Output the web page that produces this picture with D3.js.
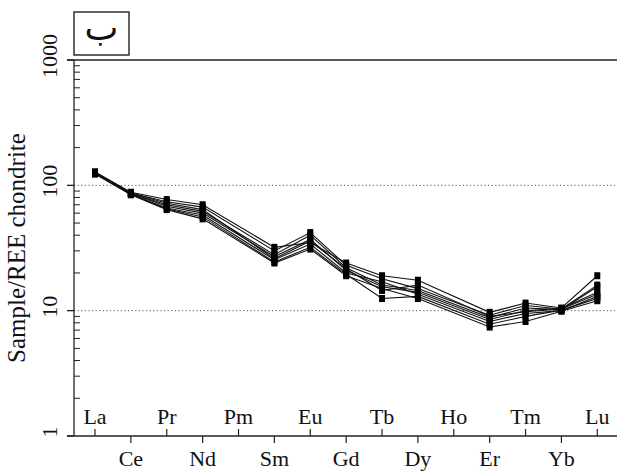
<!DOCTYPE html>
<html lang="en">
<head>
    <meta charset="UTF-8">
    <title>REE chondrite-normalised pattern</title>
    <script src="https://d3js.org/d3.v7.min.js"></script>
    <style>
        body { margin: 0; background: #fff; }
    </style>
</head>
<body>
    <div id="chart"></div>

    <script>
        // element order on the x axis (Pm has no analyses)
        const elements = ["La", "Ce", "Pr", "Nd", "Pm", "Sm", "Eu", "Gd", "Tb", "Dy", "Ho", "Er", "Tm", "Yb", "Lu"];
        const measured = ["La", "Ce", "Pr", "Nd", "Sm", "Eu", "Gd", "Tb", "Dy", "Er", "Tm", "Yb", "Lu"];

        // chondrite-normalised values, one array per sample (order = measured)
        const sample1 = [128, 88, 77, 70, 32, 35, 24, 19, 17.5, 9.7, 11.5, 10.5, 19];
        const sample2 = [127, 87, 74, 67, 30, 42, 23, 18, 15, 9.2, 11, 10.3, 16];
        const sample3 = [126, 86, 70, 62, 28, 40, 22, 16, 14.5, 8.8, 10.5, 10.2, 15.5];
        const sample4 = [125, 86, 68, 60, 27, 37, 21, 15.5, 14, 8.5, 10, 10.4, 14];
        const sample5 = [126, 85, 66, 58, 25.5, 34, 20, 17, 13.5, 8.2, 9.5, 10, 13];
        const sample6 = [124, 85, 65, 56, 24.5, 32, 19.5, 12.5, 13, 7.8, 9, 10.1, 12.5];
        const sample7 = [123, 84, 64, 54, 24, 31, 19, 15, 12.5, 7.4, 8.2, 9.9, 12];
        const sample8 = [127, 87, 72, 64, 26, 36, 21.5, 14.5, 16, 9, 9.8, 10.3, 13.5];
        const samples = [sample1, sample2, sample3, sample4, sample5, sample6, sample7, sample8];

        const yTickValues = [1, 10, 100, 1000];
        const gridValues = [10, 100];
        const panelLabel = "ب";

        const width = 617, height = 471;
        const axisX = 74, plotTop = 60, plotBottom = 436;
        const serif = "'Liberation Serif', 'DejaVu Serif', serif";

        const svg = d3.select("#chart").append("svg")
            .attr("width", width)
            .attr("height", height)
            .style("font-family", serif);

        const x = d3.scalePoint()
            .domain(elements)
            .range([95, 597.3]);

        const y = d3.scaleLog()
            .domain([1, 1000])
            .range([plotBottom, plotTop]);

        // dotted reference lines
        svg.selectAll(".grid")
            .data(gridValues)
            .enter().append("line")
            .attr("x1", axisX).attr("x2", width)
            .attr("y1", d => y(d)).attr("y2", d => y(d))
            .attr("stroke", "#555")
            .attr("stroke-width", 1)
            .attr("stroke-dasharray", "1.2,2.4");

        // top frame line and bottom axis line
        svg.append("line")
            .attr("x1", 67).attr("x2", width)
            .attr("y1", plotTop).attr("y2", plotTop)
            .attr("stroke", "#222").attr("stroke-width", 1.6);
        svg.append("line")
            .attr("x1", 67).attr("x2", width)
            .attr("y1", plotBottom).attr("y2", plotBottom)
            .attr("stroke", "#222").attr("stroke-width", 1.3);

        // left axis
        svg.append("line")
            .attr("x1", axisX).attr("x2", axisX)
            .attr("y1", plotTop).attr("y2", plotBottom)
            .attr("stroke", "#222").attr("stroke-width", 1.3);

        // minor ticks (2..9 in each decade), pointing inward
        const minor = [];
        yTickValues.slice(0, 3).forEach(d => {
            for (let k = 2; k <= 9; k++) minor.push(d * k);
        });
        svg.selectAll(".minor")
            .data(minor)
            .enter().append("line")
            .attr("x1", axisX).attr("x2", axisX + 6)
            .attr("y1", d => y(d)).attr("y2", d => y(d))
            .attr("stroke", "#222").attr("stroke-width", 1);

        // major ticks, outward
        svg.selectAll(".major")
            .data(yTickValues)
            .enter().append("line")
            .attr("x1", 67).attr("x2", axisX)
            .attr("y1", d => y(d)).attr("y2", d => y(d))
            .attr("stroke", "#222").attr("stroke-width", 1.3);

        svg.selectAll(".ylabel")
            .data(yTickValues)
            .enter().append("text")
            .attr("transform", d => `translate(57,${y(d) - 4}) rotate(-90)`)
            .attr("text-anchor", "middle")
            .attr("font-size", 22)
            .attr("fill", "#111")
            .style("font-family", serif)
            .text(d => d);

        svg.append("text")
            .attr("transform", `translate(25,248) rotate(-90)`)
            .attr("text-anchor", "middle")
            .attr("font-size", 25)
            .attr("fill", "#111")
            .style("font-family", serif)
            .text("Sample/REE chondrite");

        // x ticks: alternate up (inside) and down (outside)
        svg.selectAll(".xtick")
            .data(elements)
            .enter().append("line")
            .attr("x1", d => x(d)).attr("x2", d => x(d))
            .attr("y1", plotBottom)
            .attr("y2", (d, i) => i % 2 === 0 ? plotBottom - 7 : plotBottom + 7)
            .attr("stroke", "#222").attr("stroke-width", 1.2);

        svg.selectAll(".xlabel")
            .data(elements)
            .enter().append("text")
            .attr("x", d => x(d))
            .attr("y", (d, i) => i % 2 === 0 ? 424 : 466)
            .attr("text-anchor", "middle")
            .attr("font-size", 22)
            .attr("fill", "#111")
            .style("font-family", serif)
            .text(d => d);

        // sample lines
        const line = d3.line()
            .x((d, i) => x(measured[i]))
            .y(d => y(d));

        svg.selectAll(".sample")
            .data(samples)
            .enter().append("path")
            .attr("d", line)
            .attr("fill", "none")
            .attr("stroke", "#111")
            .attr("stroke-width", 1.1);

        const pts = [];
        samples.forEach(s => s.forEach((v, i) => pts.push({ el: measured[i], v: v })));
        svg.selectAll(".pt")
            .data(pts)
            .enter().append("rect")
            .attr("x", d => x(d.el) - 3)
            .attr("y", d => y(d.v) - 3.5)
            .attr("width", 6)
            .attr("height", 7)
            .attr("fill", "#000");

        // panel label box
        svg.append("rect")
            .attr("x", 74).attr("y", 12)
            .attr("width", 55).attr("height", 43)
            .attr("fill", "#fff")
            .attr("stroke", "#222").attr("stroke-width", 1.4);
        svg.append("text")
            .attr("x", 101.5).attr("y", 40)
            .attr("text-anchor", "middle")
            .attr("font-size", 36)
            .attr("fill", "#111")
            .style("font-family", "'DejaVu Serif', 'DejaVu Sans', 'Noto Sans', serif")
            .text(panelLabel);
    </script>
</body>
</html>
